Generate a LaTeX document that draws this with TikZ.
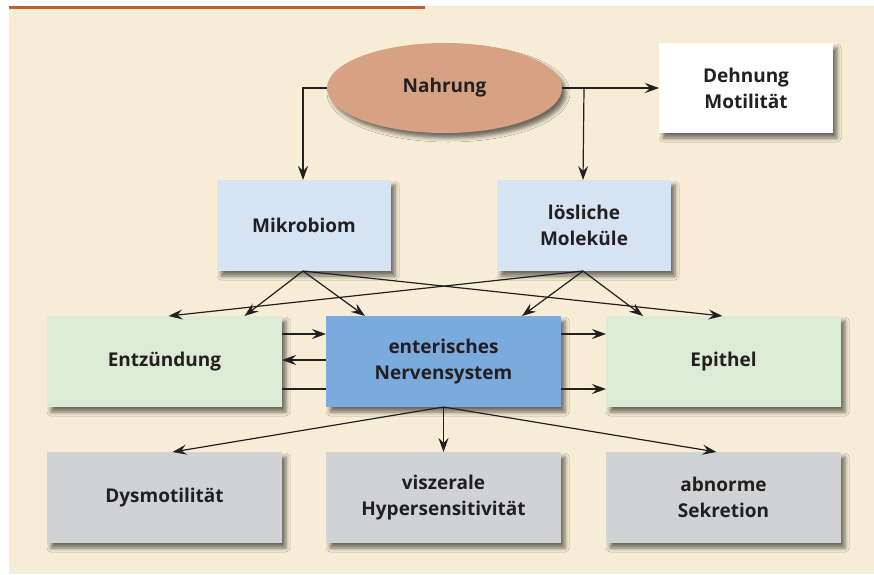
\documentclass[tikz,border=0pt]{standalone}
\usepackage{fontspec}
\setmainfont{Open Sans}
\usepackage{xcolor}
\usetikzlibrary{arrows.meta,positioning,shapes.geometric,shadows.blur,calc}

\definecolor{bgbeige}{HTML}{F7EDD6}
\definecolor{rule}{HTML}{C0602A}
\definecolor{food}{HTML}{D6A283}
\definecolor{lightblue}{HTML}{D5E3F3}
\definecolor{lightgreen}{HTML}{DBEBD6}
\definecolor{ensblue}{HTML}{7BAADC}
\definecolor{symptom}{HTML}{D1D2D4}
\definecolor{ink}{HTML}{231F20}

\tikzset{
    box/.style={rectangle,inner sep=0pt,outer sep=0pt,align=center,text=ink,
        font=\fontsize{19}{26}\selectfont\bfseries,
        blur shadow={shadow xshift=4pt,shadow yshift=-5pt,shadow blur radius=4pt,shadow opacity=55}},
    smallbox/.style={box,minimum width=174pt,minimum height=91pt},
    widebox/.style={box,minimum width=235pt,minimum height=91pt},
    arr/.style={-{Stealth[length=14pt,width=10pt,inset=5pt]},line width=1.2pt,draw=ink},
    plain/.style={line width=1.2pt,draw=ink}
}

\begin{document}
\begin{tikzpicture}[x=1pt,y=-1pt]
    \useasboundingbox (0,0) rectangle (874,574);
    % Background
    \fill[bgbeige] (9,6) rectangle (874,574);
    \fill[rule] (9,5.5) rectangle (425,8.5);

    % Top
    \node[box,ellipse,fill=food,minimum width=235pt,minimum height=90pt] (nahrung) at (444.5,88) {Nahrung};
    \node[smallbox,fill=white,minimum height=90pt] (dehnung) at (746,88) {Dehnung\\Motilität};

    % Middle
    \node[smallbox,fill=lightblue] (mikrobiom) at (304,225.5) {Mikrobiom};
    \node[smallbox,fill=lightblue] (loeslich) at (584,225.5) {lösliche\\Moleküle};

    \node[widebox,fill=lightgreen] (entz) at (164.5,361.5) {Entzündung};
    \node[widebox,fill=ensblue] (ens) at (443.5,361.5) {enterisches\\Nervensystem};
    \node[widebox,fill=lightgreen] (epithel) at (723.5,361.5) {Epithel};

    % Bottom
    \node[widebox,fill=symptom] (dys) at (164.5,497.5) {Dysmotilität};
    \node[widebox,fill=symptom] (hyper) at (443.5,497.5) {viszerale\\Hypersensitivität};
    \node[widebox,fill=symptom] (sekret) at (723.5,497.5) {abnorme\\Sekretion};

    % Nahrung
    \draw[arr] (nahrung.west) -| ([xshift=-1pt]mikrobiom.north);
    \draw[arr] (nahrung.east) -- (dehnung.west);
    \draw[arr] (nahrung.east -| loeslich.north) -- ([xshift=-1pt]loeslich.north);

    % Mikrobiom and Moleküle
    \draw[arr] ([xshift=-1pt]mikrobiom.south) -- ([xshift=80pt]entz.north);
    \draw[arr] ([xshift=-1pt]mikrobiom.south) -- ([xshift=39pt]ens.north west);
    \draw[arr] ([xshift=-1pt]mikrobiom.south) -- ([xshift=-1pt]epithel.north);
    \draw[arr] ([xshift=-1pt]loeslich.south) -- ([xshift=4pt]entz.north);
    \draw[arr] ([xshift=-1pt]loeslich.south) -- ([xshift=-39pt]ens.north east);
    \draw[arr] ([xshift=-1pt]loeslich.south) -- ([xshift=37pt]epithel.north west);

    % Entzündung and Epithel
    \draw[arr] (entz.east |- 0,334) -- (ens.west |- 0,334);
    \draw[arr] (ens.west |- 0,360) -- (entz.east |- 0,360);
    \draw[plain] (entz.east |- 0,389) -- (ens.west |- 0,389);
    \draw[arr] (ens.east |- 0,334) -- (epithel.west |- 0,334);
    \draw[arr] (ens.east |- 0,389) -- (epithel.west |- 0,389);

    % Symptoms
    \draw[arr] (ens.south) -- ([xshift=8pt]dys.north);
    \draw[arr] (ens.south) -- (hyper.north);
    \draw[arr] (ens.south) -- ([xshift=-7pt]sekret.north);
\end{tikzpicture}
\end{document}
